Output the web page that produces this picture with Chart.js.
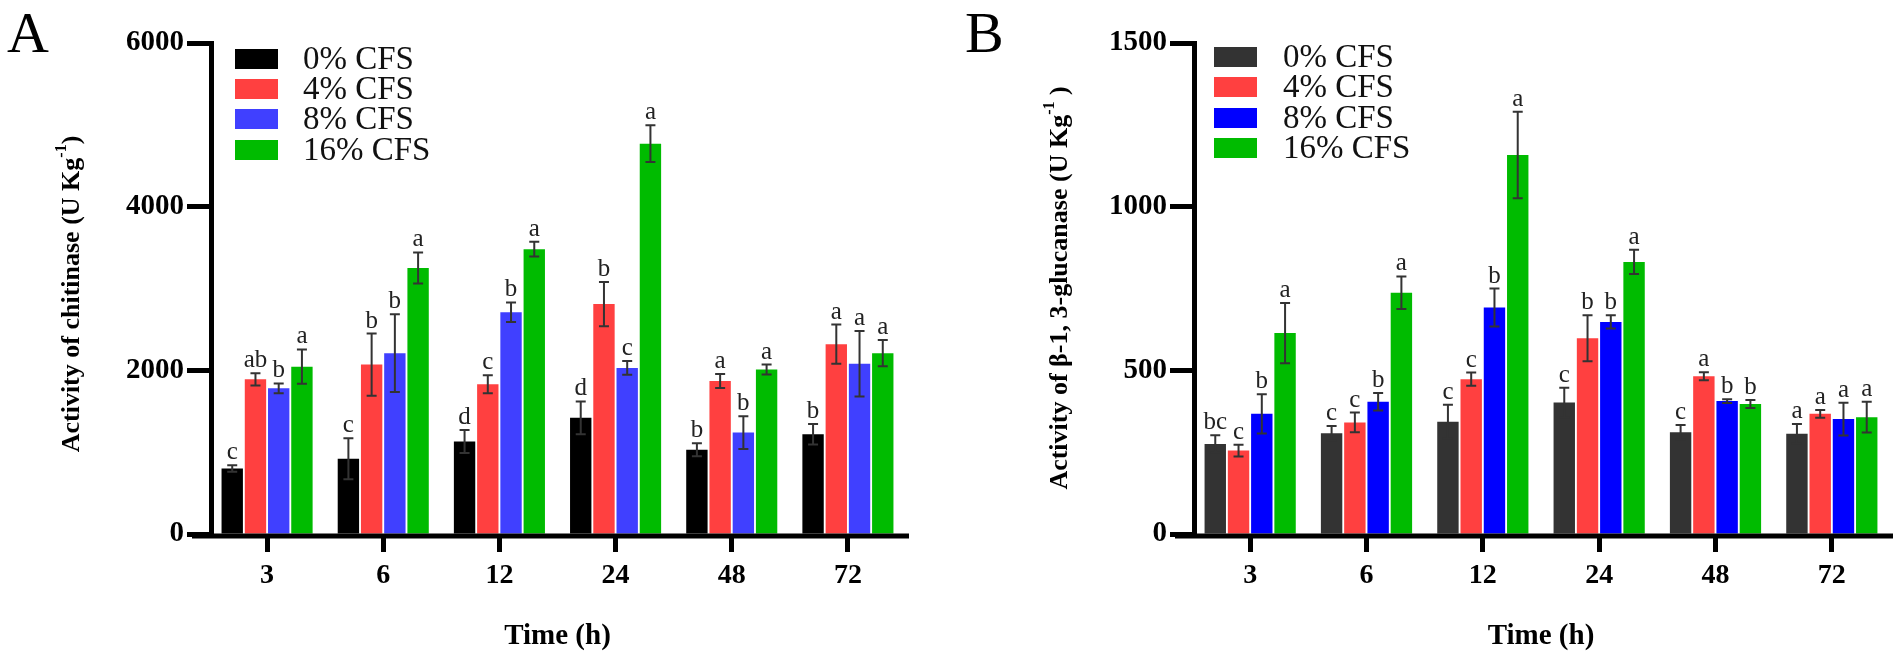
<!DOCTYPE html>
<html>
<head>
<meta charset="utf-8">
<script src="https://cdn.jsdelivr.net/npm/chart.js@4.4.1/dist/chart.umd.min.js"></script>
<style>
  html, body { margin: 0; padding: 0; background: #fff; }
  #wrap { position: relative; width: 1902px; height: 658px; overflow: hidden; }
  canvas { position: absolute; top: 0; }
  #cA { left: 0; }
  #cB { left: 951px; }
</style>
</head>
<body>
<div id="wrap">
  <canvas id="cA" width="951" height="658"></canvas>
  <canvas id="cB" width="951" height="658"></canvas>
</div>
<script>
// ---------- DATA ----------
const times = ['3', '6', '12', '24', '48', '72'];
const seriesNames = ['0% CFS', '4% CFS', '8% CFS', '16% CFS'];

// Panel A: chitinase activity (U Kg-1)
const chit0 = [800, 920, 1130, 1420, 1030, 1220];
const chit4 = [1890, 2070, 1830, 2810, 1870, 2320];
const chit8 = [1780, 2210, 2710, 2030, 1240, 2080];
const chit16 = [2045, 3250, 3480, 4770, 2010, 2210];
const chit0Err = [40, 250, 140, 200, 80, 125];
const chit4Err = [75, 380, 110, 270, 85, 240];
const chit8Err = [60, 475, 120, 85, 200, 400];
const chit16Err = [210, 190, 90, 225, 60, 160];
const chit0Sig = ['c', 'c', 'd', 'd', 'b', 'b'];
const chit4Sig = ['ab', 'b', 'c', 'b', 'a', 'a'];
const chit8Sig = ['b', 'b', 'b', 'c', 'b', 'a'];
const chit16Sig = ['a', 'a', 'a', 'a', 'a', 'a'];
const chitTicks = [0, 2000, 4000, 6000];

// Panel B: beta-1,3-glucanase activity (U Kg-1)
const glu0 = [275, 308, 343, 402, 311, 306];
const glu4 = [255, 341, 473, 598, 482, 367];
const glu8 = [367, 404, 692, 648, 406, 351];
const glu16 = [614, 737, 1158, 831, 397, 357];
const glu0Err = [27, 22, 52, 45, 22, 30];
const glu4Err = [18, 30, 20, 70, 12, 12];
const glu8Err = [60, 27, 58, 20, 6, 50];
const glu16Err = [92, 50, 132, 37, 12, 47];
const glu0Sig = ['bc', 'c', 'c', 'c', 'c', 'a'];
const glu4Sig = ['c', 'c', 'c', 'b', 'a', 'a'];
const glu8Sig = ['b', 'b', 'b', 'b', 'b', 'a'];
const glu16Sig = ['a', 'a', 'a', 'a', 'b', 'a'];
const gluTicks = [0, 500, 1000, 1500];

// ---------- DRAWING ----------
const SERIF = '"Liberation Serif", "Times New Roman", Times, serif';

function makePanel(canvasId, p) {
  const overlay = {
    id: 'overlay_' + canvasId,
    afterDatasetsDraw(chart) {
      const ctx = chart.ctx;
      const ca = chart.chartArea;
      const ys = chart.scales.y;
      ctx.save();
      // error bars + significance letters
      p.series.forEach((vals, di) => {
        const meta = chart.getDatasetMeta(di);
        vals.forEach((v, i) => {
          const bar = meta.data[i];
          const e = p.errs[di][i];
          const yTop = ys.getPixelForValue(v + e);
          const yBot = ys.getPixelForValue(v - e);
          const x = bar.x;
          ctx.strokeStyle = '#333';
          ctx.lineWidth = 2;
          ctx.beginPath();
          ctx.moveTo(x, yTop); ctx.lineTo(x, yBot);
          ctx.moveTo(x - 5, yTop); ctx.lineTo(x + 5, yTop);
          ctx.moveTo(x - 5, yBot); ctx.lineTo(x + 5, yBot);
          ctx.stroke();
          ctx.fillStyle = '#222';
          ctx.font = '25px ' + SERIF;
          ctx.textAlign = 'center';
          ctx.textBaseline = 'alphabetic';
          ctx.fillText(p.sig[di][i], x, yTop - 6);
        });
      });
      // axes lines
      ctx.strokeStyle = '#000';
      ctx.lineWidth = 5;
      ctx.beginPath();
      ctx.moveTo(ca.left + 2.5, ca.top - 2);
      ctx.lineTo(ca.left + 2.5, ca.bottom + 2);
      ctx.stroke();
      ctx.beginPath();
      ctx.moveTo(ca.left - 17, ca.bottom + 2);
      ctx.lineTo(ca.right + 3, ca.bottom + 2);
      ctx.stroke();
      ctx.restore();
    },
    afterDraw(chart) {
      const ctx = chart.ctx;
      const ca = chart.chartArea;
      ctx.save();
      // panel letter
      ctx.fillStyle = '#000';
      ctx.font = '58px ' + SERIF;
      ctx.textAlign = 'left';
      ctx.textBaseline = 'alphabetic';
      ctx.fillText(p.panel, p.panelX, 52);
      // legend
      p.colors.forEach((c, i) => {
        const y = p.legY[i];
        ctx.fillStyle = c;
        ctx.fillRect(p.legX, y, 43, 20);
        ctx.fillStyle = '#111';
        ctx.font = '33px ' + SERIF;
        ctx.textAlign = 'left';
        ctx.textBaseline = 'middle';
        ctx.fillText(seriesNames[i], p.legTextX, y + 11);
      });
      // y title (rotated) with superscript
      ctx.translate(p.yTitleX, p.yTitleY);
      ctx.rotate(-Math.PI / 2);
      const f1 = 'bold 26px ' + SERIF, f2 = 'bold 16px ' + SERIF;
      ctx.font = f1; const w1 = ctx.measureText(p.yTitle1).width;
      ctx.font = f2; const w2 = ctx.measureText('-1').width;
      ctx.font = f1; const w3 = ctx.measureText(p.yTitle3).width;
      let x0 = -(w1 + w2 + w3) / 2;
      ctx.fillStyle = '#000';
      ctx.textAlign = 'left';
      ctx.textBaseline = 'middle';
      ctx.font = f1; ctx.fillText(p.yTitle1, x0, 0);
      ctx.font = f2; ctx.fillText('-1', x0 + w1, -10);
      ctx.font = f1; ctx.fillText(p.yTitle3, x0 + w1 + w2, 0);
      ctx.setTransform(1, 0, 0, 1, 0, 0);
      // x title
      ctx.font = 'bold 29px ' + SERIF;
      ctx.textAlign = 'center';
      ctx.textBaseline = 'middle';
      ctx.fillStyle = '#000';
      ctx.fillText('Time (h)', (ca.left + ca.right) / 2, 637);
      ctx.restore();
    }
  };

  return new Chart(document.getElementById(canvasId), {
    type: 'bar',
    data: {
      labels: times,
      datasets: p.series.map((s, i) => ({
        label: seriesNames[i],
        data: s,
        backgroundColor: p.colors[i],
        borderWidth: 0,
        barPercentage: 0.92,
        categoryPercentage: 0.8
      }))
    },
    options: {
      responsive: false,
      animation: false,
      devicePixelRatio: 1,
      layout: { padding: { top: 43, left: 0, right: p.padRight, bottom: 0 } },
      plugins: { legend: { display: false }, tooltip: { enabled: false } },
      scales: {
        x: {
          grid: { display: true, drawOnChartArea: false, offset: false, drawTicks: true,
                  tickLength: 18, tickWidth: 5, tickColor: '#000' },
          border: { display: false },
          ticks: { font: { family: SERIF, size: 28, weight: 'bold' }, color: '#000', padding: 7, maxRotation: 0 },
          afterFit(s) { s.height = 124; }
        },
        y: {
          min: p.ticks[0],
          max: p.ticks[p.ticks.length - 1],
          afterBuildTicks(s) { s.ticks = p.ticks.map(v => ({ value: v })); },
          grid: { display: true, drawOnChartArea: false, drawTicks: true,
                  tickLength: 22, tickWidth: 5, tickColor: '#000' },
          border: { display: false },
          ticks: { font: { family: SERIF, size: 29, weight: 'bold' }, color: '#000', padding: 3,
                   callback: v => String(v) },
          afterFit(s) { s.width = p.left; }
        }
      }
    },
    plugins: [overlay]
  });
}

makePanel('cA', {
  series: [chit0, chit4, chit8, chit16],
  errs: [chit0Err, chit4Err, chit8Err, chit16Err],
  sig: [chit0Sig, chit4Sig, chit8Sig, chit16Sig],
  ticks: chitTicks,
  colors: ['#000000', '#ff4040', '#4040ff', '#00bb00'],
  left: 209, padRight: 45,
  panel: 'A', panelX: 7,
  legX: 235, legY: [49, 79, 109, 140], legTextX: 303,
  yTitle1: 'Activity of chitinase (U Kg', yTitle3: ')',
  yTitleX: 72, yTitleY: 294
});

makePanel('cB', {
  series: [glu0, glu4, glu8, glu16],
  errs: [glu0Err, glu4Err, glu8Err, glu16Err],
  sig: [glu0Sig, glu4Sig, glu8Sig, glu16Sig],
  ticks: gluTicks,
  colors: ['#333333', '#ff4040', '#0000ff', '#00bb00'],
  left: 241, padRight: 12,
  panel: 'B', panelX: 14,
  legX: 263, legY: [47, 77, 108, 138], legTextX: 332,
  yTitle1: 'Activity of \u03b2-1, 3-glucanase (U Kg', yTitle3: ' )',
  yTitleX: 109, yTitleY: 288
});
</script>
</body>
</html>
